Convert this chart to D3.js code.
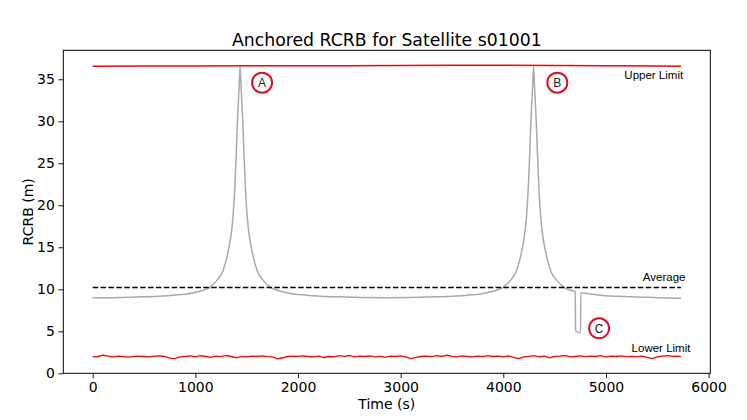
<!DOCTYPE html>
<html>
<head>
<meta charset="utf-8">
<script src="https://cdn.jsdelivr.net/npm/d3@7"></script>
<style>
  body { margin: 0; background: #fff; }
  svg { font-family: "DejaVu Sans", sans-serif; }
</style>
</head>
<body>
<script>
var margin = {top: 50.3, right: 36.7, bottom: 46.7, left: 63.3},
width = 747 - margin.left - margin.right,
height = 420 - margin.top - margin.bottom;

// gray RCRB curve
var rcrbTime = [0, 300, 486, 786, 986, 1066, 1136, 1206, 1266, 1311, 1342, 1366, 1384, 1398, 1410, 1418, 1426, 1436,
  1446, 1454, 1462, 1474, 1488, 1506, 1530, 1561, 1606, 1666, 1736, 1806, 1886, 2086, 2386, 2860,
  3345, 3645, 3845, 3925, 3995, 4065, 4125, 4170, 4201, 4225, 4243, 4257, 4269, 4277, 4285, 4295,
  4305, 4313, 4321, 4333, 4347, 4365, 4389, 4420, 4465, 4525, 4595, 4665, 4700, 4704, 4752, 4756,
  4845, 4945, 5245, 5500, 5730];
var rcrbValue = [8.98, 9.03, 9.1, 9.3, 9.6, 9.85, 10.2, 11.0, 12.1, 14.0, 16.0, 18.5, 22, 26, 30, 32, 34, 36.5,
  34, 32, 30, 26, 22, 18.5, 16.0, 14.0, 12.1, 11.0, 10.2, 9.85, 9.6, 9.3, 9.1, 8.98,
  9.1, 9.3, 9.6, 9.85, 10.2, 11.0, 12.1, 14.0, 16.0, 18.5, 22, 26, 30, 32, 34, 36.5,
  34, 32, 30, 26, 22, 18.5, 16.0, 14.0, 12.1, 11.0, 10.2, 9.85, 9.75, 5.07, 4.83, 9.6,
  9.45, 9.3, 9.1, 9.0, 8.93];

// upper limit
var upperTime = [0, 500, 1000, 1500, 2000, 2500, 3000, 3500, 3800, 4000, 4500, 5000, 5500, 5730];
var upperValue = [36.56, 36.58, 36.59, 36.6, 36.61, 36.62, 36.64, 36.66, 36.67, 36.66, 36.63, 36.6, 36.57, 36.56];

// lower limit, every 50 s
var lowerTime = d3.range(0, 5701, 50).concat([5730]);
var lowerValue = [1.95, 2.0, 2.15, 2.05, 1.95, 2.05, 1.98, 1.92, 2.02, 2.05,
  2.0, 1.95, 2.05, 2.08, 2.0, 1.8, 1.75, 1.95, 2.0, 2.08,
  1.95, 2.1, 2.0, 1.9, 2.05, 1.98, 2.12, 2.0, 1.85, 2.02,
  1.95, 2.05, 2.0, 2.08, 1.98, 1.95, 1.72, 1.85, 2.0, 2.05,
  2.02, 2.08, 2.0, 1.95, 2.05, 1.88, 2.0, 1.95, 2.1, 2.02,
  2.12, 1.95, 2.05, 2.0, 2.08, 1.95, 2.02, 1.9, 2.05, 2.0,
  2.08, 1.95, 1.75, 1.9, 2.0, 2.05, 1.98, 2.1, 2.0, 2.15,
  2.02, 1.95, 2.08, 2.0, 1.95, 2.05, 1.98, 2.1, 2.0, 2.05,
  1.95, 2.08, 1.9, 1.75, 1.95, 2.02, 2.1, 1.95, 2.05, 1.85,
  2.0, 2.05, 2.12, 1.95, 2.0, 2.08, 1.98, 2.05, 2.0, 2.1,
  1.95, 2.05, 2.0, 2.08, 1.98, 2.02, 1.95, 2.05, 1.9, 1.75,
  1.95, 2.05, 2.1, 2.02, 2.05, 1.98];

// average
var avgTime = [0, 5730];
var avgValue = [10.2, 10.2];

var xTicks = [0, 1000, 2000, 3000, 4000, 5000, 6000];
var yTicks = [0, 5, 10, 15, 20, 25, 30, 35];

// labels and circled markers
var labelText = ["Upper Limit", "Average", "Lower Limit"];
var labelTime = [5752, 5775, 5823];
var labelValue = [35.0, 10.93, 2.48];

var markText = ["A", "B", "C"];
var markTime = [1650, 4526, 4933];
var markValue = [34.6, 34.6, 5.36];

var svg = d3.select('body').append('svg').attr('width', 747).attr('height', 420);
var g = svg.append('g').attr('transform', 'translate(' + margin.left + ',' + margin.top + ')');

var x = d3.scaleLinear().domain([-286.5, 6016.5]).range([0, width]);
var y = d3.scaleLinear().domain([0, 38.45]).range([height, 0]);

function series(t, v) {
  return t.map(function (d, i) { return [d, v[i]]; });
}

var line = d3.line()
.x(function (d) { return x(d[0]); })
.y(function (d) { return y(d[1]); });

var smooth = d3.line()
.x(function (d) { return x(d[0]); })
.y(function (d) { return y(d[1]); })
.curve(d3.curveMonotoneX);

g.append("path").datum(series(rcrbTime, rcrbValue))
.attr("d", smooth).attr("fill", "none").attr("stroke", "#aaaaaa").attr("stroke-width", 1.5);

g.append("path").datum(series(avgTime, avgValue))
.attr("d", line).attr("fill", "none").attr("stroke", "#000").attr("stroke-width", 1.5)
.attr("stroke-dasharray", "5.5,2.4");

g.append("path").datum(series(upperTime, upperValue))
.attr("d", line).attr("fill", "none").attr("stroke", "#ff0000").attr("stroke-width", 1.5);

g.append("path").datum(series(lowerTime, lowerValue))
.attr("d", line).attr("fill", "none").attr("stroke", "#ff0000").attr("stroke-width", 1.3);

// text labels
g.selectAll(".lbl")
.data(labelText)
.enter().append("text")
.attr("class", "lbl")
.attr("x", function (d, i) { return x(labelTime[i]); })
.attr("y", function (d, i) { return y(labelValue[i]); })
.attr("text-anchor", "end")
.style("font-family", "'Liberation Sans', Arial, sans-serif")
.style("font-size", "11.5px")
.text(function (d) { return d; });

// circled markers
var marks = g.selectAll(".mark")
.data(markText)
.enter().append("g")
.attr("class", "mark")
.attr("transform", function (d, i) { return "translate(" + x(markTime[i]) + "," + y(markValue[i]) + ")"; });

marks.append("circle").attr("r", 10).attr("fill", "none")
.attr("stroke", "#dd1122").attr("stroke-width", 2);

marks.append("text").attr("text-anchor", "middle").attr("dy", "0.36em")
.style("font-family", "'Liberation Sans', Arial, sans-serif")
.style("font-size", "12px").attr("fill", "#222")
.text(function (d) { return d; });

// axes
var xAxis = g.append("g").attr("transform", "translate(0," + height + ")")
.call(d3.axisBottom(x).tickValues(xTicks).tickSize(4.9).tickPadding(3.5).tickFormat(d3.format("d")));
var yAxis = g.append("g")
.call(d3.axisLeft(y).tickValues(yTicks).tickSize(4.9).tickPadding(3.5));

[xAxis, yAxis].forEach(function (a) {
  a.select(".domain").remove();
  a.selectAll("text").style("font-family", "'DejaVu Sans', sans-serif").style("font-size", "14px").attr("fill", "#000");
  a.selectAll("line").attr("stroke", "#000").attr("stroke-width", 0.9);
});

// frame
g.append("rect").attr("width", width).attr("height", height)
.attr("fill", "none").attr("stroke", "#000").attr("stroke-width", 1);

// titles
svg.append("text")
.attr("x", margin.left + width / 2).attr("y", 45.5)
.attr("text-anchor", "middle").style("font-size", "17.3px")
.text("Anchored RCRB for Satellite s01001");

svg.append("text")
.attr("x", margin.left + width / 2).attr("y", 409)
.attr("text-anchor", "middle").style("font-size", "14px")
.text("Time (s)");

svg.append("text")
.attr("transform", "translate(33," + (margin.top + height / 2) + ") rotate(-90)")
.attr("text-anchor", "middle").style("font-size", "14px")
.text("RCRB (m)");
</script>
</body>
</html>
